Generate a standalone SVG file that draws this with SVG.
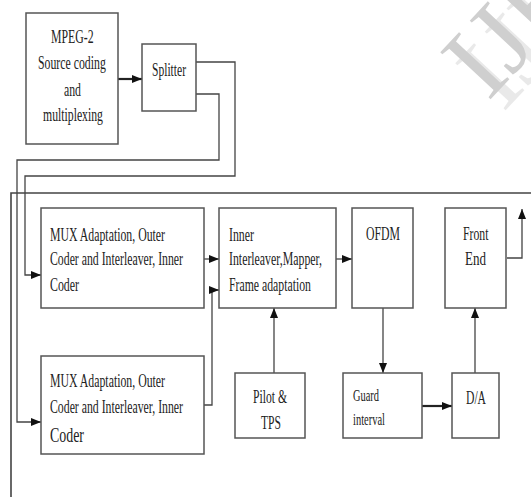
<svg xmlns="http://www.w3.org/2000/svg" width="531" height="500" viewBox="0 0 531 500">
<defs>
<marker id="ah" markerUnits="userSpaceOnUse" markerWidth="10" markerHeight="10" viewBox="0 0 10 10" refX="10" refY="5" orient="auto">
<path d="M0,1 L10,5 L0,9 Z" fill="#111"/>
</marker>
</defs>
<style>
.box{fill:#fff;stroke:#555;stroke-width:1.5}
.t{font-family:"Liberation Serif","Times New Roman",serif;font-size:18.5px;fill:#222}
.big{font-size:22px}
.c{fill:none;stroke:#444;stroke-width:1.3}
.ca{fill:none;stroke:#444;stroke-width:1.3;marker-end:url(#ah)}
.cb{fill:none;stroke:#222;stroke-width:2.2;marker-end:url(#ah)}
.wm{font-family:"Liberation Serif",serif;font-size:105px;fill:#cfcfcf}
</style>
<rect width="531" height="500" fill="#fff"/>
<g id="watermark">
<text class="wm" transform="translate(503,113) rotate(-47)" fill-opacity="0.45">IJERT</text>
<text class="wm" transform="translate(488,102) rotate(-47)">IJERT</text>
</g>
<g id="connectors">
<path class="cb" d="M118,79 H142"/>
<path class="ca" d="M196,62 H235 V176 H25 V275 H41"/>
<path class="ca" d="M196,94 H219 V160 H17 V422 H41"/>
<path class="c" d="M531,193 H11 V497" stroke="#666" style="stroke-width:1.6"/>
<path class="ca" d="M204,259 H219"/>
<path class="ca" d="M204,405 H212 V290 H219"/>
<path class="ca" d="M336,259 H352"/>
<path class="ca" d="M274,373 V308"/>
<path class="ca" d="M383,308 V373"/>
<path class="cb" d="M422,406 H452"/>
<path class="ca" d="M475,373 V308"/>
<path class="ca" d="M507,258 H522 V209"/>
</g>
<g id="mpeg">
<rect class="box" x="26" y="13" width="92" height="131"/>
<text class="t" x="51" y="43" textLength="42.6" lengthAdjust="spacingAndGlyphs">MPEG-2</text>
<text class="t" x="38" y="69" textLength="67.8" lengthAdjust="spacingAndGlyphs">Source coding</text>
<text class="t" x="64" y="96" textLength="17" lengthAdjust="spacingAndGlyphs">and</text>
<text class="t" x="43" y="121" textLength="60" lengthAdjust="spacingAndGlyphs">multiplexing</text>
</g>
<g id="splitter">
<rect class="box" x="142" y="44" width="54" height="67"/>
<text class="t" x="152" y="76" textLength="34" lengthAdjust="spacingAndGlyphs">Splitter</text>
</g>
<g id="mux1">
<rect class="box" x="41" y="208" width="163" height="100"/>
<text class="t" x="50" y="241" textLength="115" lengthAdjust="spacingAndGlyphs">MUX Adaptation, Outer</text>
<text class="t" x="50" y="265" textLength="133" lengthAdjust="spacingAndGlyphs">Coder and Interleaver, Inner</text>
<text class="t" x="50" y="291" textLength="29" lengthAdjust="spacingAndGlyphs">Coder</text>
</g>
<g id="inner">
<rect class="box" x="219" y="208" width="117" height="100"/>
<text class="t" x="229" y="241" textLength="25" lengthAdjust="spacingAndGlyphs">Inner</text>
<text class="t" x="229" y="265" textLength="93" lengthAdjust="spacingAndGlyphs">Interleaver,Mapper,</text>
<text class="t" x="229" y="291" textLength="82" lengthAdjust="spacingAndGlyphs">Frame adaptation</text>
</g>
<g id="ofdm">
<rect class="box" x="352" y="208" width="61" height="100"/>
<text class="t" x="366" y="240" textLength="34" lengthAdjust="spacingAndGlyphs">OFDM</text>
</g>
<g id="frontend">
<rect class="box" x="445" y="208" width="61" height="100"/>
<text class="t" x="463" y="240" textLength="25.5" lengthAdjust="spacingAndGlyphs">Front</text>
<text class="t" x="465" y="265" textLength="21" lengthAdjust="spacingAndGlyphs">End</text>
</g>
<g id="mux2">
<rect class="box" x="41" y="356" width="163" height="98"/>
<text class="t" x="50" y="387" textLength="115" lengthAdjust="spacingAndGlyphs">MUX Adaptation, Outer</text>
<text class="t" x="50" y="413" textLength="133" lengthAdjust="spacingAndGlyphs">Coder and Interleaver, Inner</text>
<text class="t big" x="50" y="442" textLength="34" lengthAdjust="spacingAndGlyphs">Coder</text>
</g>
<g id="pilot">
<rect class="box" x="235" y="373" width="70" height="65"/>
<text class="t" x="253" y="403" textLength="34" lengthAdjust="spacingAndGlyphs">Pilot &amp;</text>
<text class="t" x="261" y="429" textLength="20" lengthAdjust="spacingAndGlyphs">TPS</text>
</g>
<g id="guard">
<rect class="box" x="343" y="373" width="79" height="65"/>
<text class="t" x="353" y="401" textLength="26" lengthAdjust="spacingAndGlyphs" style="font-size:17.5px">Guard</text>
<text class="t" x="353" y="425" textLength="32" lengthAdjust="spacingAndGlyphs" style="font-size:17.5px">interval</text>
</g>
<g id="da">
<rect class="box" x="452" y="373" width="47" height="65"/>
<text class="t" x="466" y="404" textLength="20" lengthAdjust="spacingAndGlyphs">D/A</text>
</g>
</svg>
